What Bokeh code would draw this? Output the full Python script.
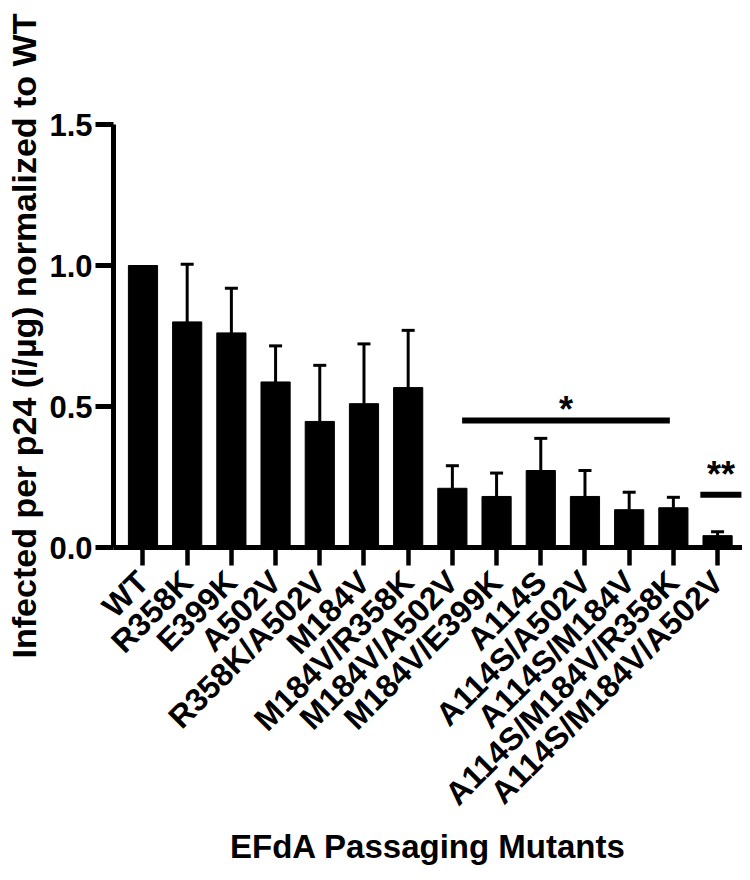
import math
from bokeh.plotting import figure
from bokeh.models import (ColumnDataSource, Range1d, FixedTicker, Whisker, TeeHead, Label)
from bokeh.embed import file_html
from bokeh.resources import INLINE

categories = ["WT", "R358K", "E399K", "A502V", "R358K/A502V", "M184V", "M184V/R358K",
              "M184V/A502V", "M184V/E399K", "A114S", "A114S/A502V", "A114S/M184V",
              "A114S/M184V/R358K", "A114S/M184V/A502V"]
means = [1.00, 0.80, 0.761, 0.587, 0.447, 0.510, 0.567, 0.210, 0.181, 0.273, 0.181, 0.134, 0.141, 0.042]
errors = [0.0, 0.204, 0.158, 0.128, 0.199, 0.212, 0.203, 0.080, 0.083, 0.114, 0.092, 0.062, 0.037, 0.014]
y_ticks = [0.0, 0.5, 1.0, 1.5]
y_tick_labels = ["0.0", "0.5", "1.0", "1.5"]

# significance annotations (start category, end category, height, label)
sig_start = [7.22, 12.61]
sig_end = [11.92, 13.54]
sig_height = [0.45, 0.187]
sig_text_height = [0.49, 0.258]
sig_labels = ["*", "**"]

FONT = "Liberation Sans"

xs = list(range(len(categories)))

p = figure(frame_width=629, frame_height=423,
           x_range=Range1d(-0.667, 13.564), y_range=Range1d(0, 1.5),
           output_backend="svg", toolbar_location=None,
           min_border_left=113, min_border_right=0, min_border_top=124, min_border_bottom=317)
p.outline_line_color = None
p.xgrid.visible = False
p.ygrid.visible = False
p.background_fill_color = "white"
p.border_fill_color = "white"

src = ColumnDataSource(dict(x=xs, top=means))
p.vbar(x="x", top="top", bottom=0, width=0.66, source=src, fill_color="black", line_color="black")

ex = [x for x, e in zip(xs, errors) if e > 0]
el = [m for m, e in zip(means, errors) if e > 0]
eu = [m + e for m, e in zip(means, errors) if e > 0]
esrc = ColumnDataSource(dict(x=ex, lower=el, upper=eu))
w = Whisker(source=esrc, base="x", lower="lower", upper="upper", dimension="height",
            line_color="black", line_width=3,
            upper_head=TeeHead(size=13, line_width=3, line_color="black"), lower_head=None)
p.add_layout(w)

p.segment(x0=sig_start, x1=sig_end, y0=sig_height, y1=sig_height, line_color="black", line_width=6)
for xa, xb, yt, lab in zip(sig_start, sig_end, sig_text_height, sig_labels):
    p.add_layout(Label(x=(xa + xb) / 2, y=yt, text=lab, text_align="center", text_baseline="alphabetic",
                       text_font=FONT, text_font_style="bold", text_font_size="36px", text_color="black"))

# y axis
ya = p.yaxis[0]
ya.ticker = FixedTicker(ticks=y_ticks)
ya.major_label_overrides = {t: l for t, l in zip(y_ticks, y_tick_labels)}
ya.axis_line_width = 5
ya.major_tick_line_width = 5
ya.major_tick_out = 18
ya.major_tick_in = 0
ya.minor_tick_line_color = None
ya.major_label_standoff = 3
ya.major_label_text_font = FONT
ya.major_label_text_font_style = "bold"
ya.major_label_text_font_size = "31px"
ya.major_label_text_color = "black"
ya.axis_label = "Infected per p24 (i/µg) normalized to WT"
ya.axis_label_text_font = FONT
ya.axis_label_text_font_style = "bold"
ya.axis_label_text_font_size = "34px"
ya.axis_label_text_color = "black"
ya.axis_label_standoff = 3

# x axis
xa_ = p.xaxis[0]
xa_.ticker = FixedTicker(ticks=xs)
xa_.major_label_overrides = {x: c for x, c in zip(xs, categories)}
xa_.major_label_orientation = math.pi / 4
xa_.axis_line_width = 5
xa_.major_tick_line_width = 4.5
xa_.major_tick_out = 18
xa_.major_tick_in = 0
xa_.minor_tick_line_color = None
xa_.major_label_standoff = 11
xa_.major_label_text_font = FONT
xa_.major_label_text_font_style = "bold"
xa_.major_label_text_font_size = "32px"
xa_.major_label_text_color = "black"
xa_.axis_label = "EFdA Passaging Mutants"
xa_.axis_label_text_font = FONT
xa_.axis_label_text_font_style = "bold"
xa_.axis_label_text_font_size = "33px"
xa_.axis_label_text_color = "black"
xa_.axis_label_standoff = 0

open("out.html", "w").write(file_html(p, INLINE))
